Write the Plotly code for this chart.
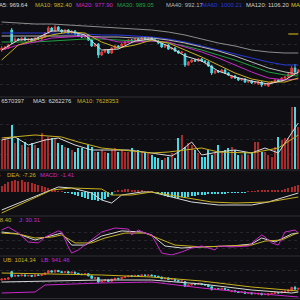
import plotly.graph_objects as go

N = 90
idx = list(range(N))

open_ = [1130,1135,1140,1230,1175,1185,1180,1190,1180,1185,1175,1190,1185,1195,1215,1240,1225,1245,1230,1220,
         1230,1215,1225,1210,1200,1195,1205,1180,1150,1160,1105,1120,1130,1115,1140,1150,1145,1160,1170,1180,
         1175,1185,1180,1190,1185,1190,1180,1175,1165,1145,1155,1135,1140,1125,1115,1110,1055,1070,1080,1075,
         1085,1075,1070,1050,1015,1025,1020,1030,1015,990,1000,990,980,985,970,975,965,960,970,955,
         950,965,970,980,975,990,995,1000,1040,1020]
close = [1140,1145,1155,1170,1185,1180,1190,1180,1185,1175,1190,1185,1195,1215,1240,1225,1245,1230,1220,1230,
         1215,1225,1210,1200,1195,1205,1180,1150,1160,1105,1120,1130,1115,1140,1150,1145,1160,1170,1180,1175,
         1185,1180,1190,1185,1190,1180,1175,1165,1145,1155,1135,1140,1125,1115,1120,1055,1070,1080,1075,1085,
         1075,1070,1050,1015,1025,1020,1030,1015,1005,1000,990,980,985,970,975,965,970,970,955,960,
         965,970,980,975,990,995,1010,1040,1020,1030]
high = [1150,1150,1160,1240,1195,1190,1195,1195,1190,1190,1195,1195,1200,1220,1250,1245,1255,1250,1235,1235,
        1235,1230,1230,1215,1205,1210,1210,1185,1165,1165,1125,1135,1135,1145,1155,1155,1165,1175,1185,1185,
        1190,1190,1195,1195,1195,1195,1185,1180,1170,1160,1160,1145,1145,1130,1125,1115,1075,1085,1085,1090,
        1090,1080,1075,1055,1030,1030,1035,1035,1020,1005,1005,995,990,990,980,980,975,975,975,965,
        970,975,985,985,995,1000,1015,1050,1060,1035]
low = [1120,1130,1135,1160,1170,1175,1175,1175,1175,1170,1170,1180,1180,1190,1210,1220,1220,1225,1215,1215,
       1210,1210,1205,1195,1190,1190,1175,1145,1145,1090,1100,1115,1110,1110,1135,1140,1140,1155,1165,1170,
       1170,1175,1175,1180,1180,1175,1170,1160,1140,1140,1130,1130,1120,1110,1110,1045,1050,1065,1070,1070,
       1070,1065,1045,1005,1010,1015,1015,1010,1000,985,985,975,975,965,965,960,960,955,945,950,
       945,960,965,970,970,985,990,995,1015,1015]

ma_idx = [0,5,10,15,20,25,30,35,40,45,50,55,60,65,70,75,80,85,89]
ma5 = [1130,1180,1185,1225,1225,1205,1130,1135,1175,1185,1150,1100,1075,1025,995,975,960,980,1020]
ma10 = [1080,1155,1180,1205,1220,1215,1170,1140,1155,1180,1165,1130,1095,1055,1015,985,970,970,990]
ma20 = [1130,1155,1170,1190,1195,1200,1190,1170,1170,1175,1170,1145,1120,1090,1055,1020,990,980,985]
ma30 = [1170,1170,1170,1175,1180,1185,1185,1180,1175,1175,1165,1150,1130,1105,1080,1050,1020,1005,1000]
ma40 = [1200,1200,1200,1200,1200,1200,1195,1195,1190,1190,1180,1165,1145,1125,1100,1070,1040,1020,1010]
ma60 = [1215,1215,1215,1215,1210,1210,1205,1205,1200,1195,1185,1170,1150,1130,1110,1090,1070,1055,1055]
ma120 = [1270,1265,1260,1260,1255,1250,1245,1240,1235,1230,1220,1205,1185,1165,1150,1130,1120,1115,1115]
ma250_idx = [86,87,88,89]
ma250 = [1210,1210,1210,1210]

vol_m = [5.8,6.4,5.8,8.8,5.2,6.2,4.8,5.4,4.4,5.2,4.8,4.2,7.2,6.0,6.4,6.2,6.2,5.2,4.8,4.4,
         4.2,3.8,3.4,4.2,4.2,3.8,4.8,4.4,3.4,3.4,3.8,3.4,3.2,3.8,4.2,3.4,3.8,3.4,3.4,4.2,
         3.4,3.8,3.4,3.4,3.2,2.8,2.4,2.2,1.8,2.2,2.4,3.2,2.2,6.2,6.8,4.4,5.2,4.8,3.8,3.2,
         2.4,2.4,3.8,2.8,3.2,4.8,3.4,3.8,4.2,4.4,3.8,2.8,2.8,3.4,2.8,3.4,5.4,5.4,3.4,3.4,
         2.8,2.4,4.4,6.4,5.8,6.2,6.2,12.4,12.4,8.4]
vma5_idx = [0,4,8,13,17,22,27,33,38,45,51,54,57,60,65,70,75,79,83,87,89]
vma5 = [5.8,6.4,4.8,5.8,6.2,4.8,3.8,3.8,3.8,3.2,2.6,3.8,5.4,2.8,3.4,3.8,3.2,4.2,3.2,7.2,9.2]
vma10_idx = [0,10,18,23,30,45,50,60,65,75,83,89]
vma10 = [6.2,6.8,6.4,5.4,4.2,3.2,3.4,4.2,3.4,3.2,4.2,6.8]

macd_hist = [6,8,10,11,12,11,12,10,10,9,8,7,6,5,4,3,2,1,0.5,-0.5,
             -1,-2,-3,-4,-5,-6,-7,-8,-8,-9,-8,-7,-5,-3,1,2,2,3,3,2,
             2,2,1.5,1,1,0.5,-1,-2,-3,-4,-5,-5,-6,-6,-5,-6,-5,-4,-4,-3,
             -3,-3,-2,-2,-2,-2,-1.5,-1.5,-1,-1,-1,-0.5,-0.5,-0.5,0.5,1,1,1.5,2,2,
             1.5,1.5,2,2,2.5,3,4,5,6,7]
dif_idx = [0,13,17,21,27,30,33,36,42,45,57,65,75,80,87,89]
dif = [-18,0,5,4,-1,-8,-11,-3,0,0,-10,-13,-13,-10,-3,-1]
dea_idx = [0,15,21,30,33,39,45,63,70,80,89]
dea = [-21,2,4,3,-3,-3,0,-10,-11,-10,-5]

k_idx = [0,5,10,15,18,21,25,30,36,42,45,49,54,60,69,75,78,82,87,89]
k_val = [80,72.5,50,65,76,31,31,65,84,80,69,27.5,20,24,27.5,35,57.5,42.5,72.5,76]
d_idx = [0,5,10,15,18,22,27,31,37,43,46,52,60,69,75,79,84,88,89]
d_val = [76,72.5,57.5,61,69,39,39,57.5,76,76,61,31,24,27.5,31,46,50,72.5,76]
j_idx = [0,2,5,8,11,13,17,18,20,21,23,27,30,34,38,39,41,43,45,48,51,54,57,60,64,65,69,74,76,78,79,81,83,85,88,89]
j_val = [87.5,98.75,76,42.5,39,61,84,80,24,1,12.5,50,80,95,91,69,87.5,76,69,1,-6,5,20,27.5,12.5,27.5,24,27.5,50,69,61,39,31,80,87.5,76]

ub_idx = [0,15,30,45,60,75,89]
ub = [1214,1205,1190,1166,1118,1046,998]
mid_idx = [0,15,30,45,60,75,87,89]
mid = [1106,1118,1130,1130,1082,1010,974,986]
lb_idx = [0,10,13,30,45,60,75,89]
lb = [974,986,1070,1094,1106,1034,974,926]

BG = "#0f0f13"
RED = "#e23c3c"
VRED = "#a82a2a"
CYAN = "#45dbe6"
C_MA5 = "#d8d8d8"
C_MA10 = "#c8b020"
C_MA20 = "#c828c8"
C_MA30 = "#20a040"
C_MA40 = "#b8b8b8"
C_MA60 = "#2838d8"
C_MA120 = "#8c8c8c"
C_MA250 = "#e0c020"

fig = go.Figure()


def line(x, y, color, ax, w=1.0):
    fig.add_trace(go.Scatter(x=x, y=y, mode="lines", line=dict(color=color, width=w),
                             xaxis=ax[0], yaxis=ax[1], hoverinfo="skip", showlegend=False))


# main
fig.add_trace(go.Candlestick(x=idx, open=open_, high=high, low=low, close=close,
                             increasing=dict(line=dict(color=RED, width=1), fillcolor=RED),
                             decreasing=dict(line=dict(color=CYAN, width=1), fillcolor=CYAN),
                             whiskerwidth=0, showlegend=False, xaxis="x", yaxis="y"))
line(ma_idx, ma120, C_MA120, ("x", "y"))
line(ma_idx, ma60, C_MA60, ("x", "y"))
line(ma_idx, ma40, C_MA40, ("x", "y"))
line(ma_idx, ma30, C_MA30, ("x", "y"))
line(ma_idx, ma20, C_MA20, ("x", "y"))
line(ma_idx, ma10, C_MA10, ("x", "y"))
line(ma_idx, ma5, C_MA5, ("x", "y"))
line(ma250_idx, ma250, C_MA250, ("x", "y"))

# volume
vcol = [VRED if c >= o else CYAN for o, c in zip(open_, close)]
fig.add_trace(go.Bar(x=idx, y=[v * 1e6 for v in vol_m], marker=dict(color=vcol, line=dict(width=0)),
                     width=0.65, xaxis="x2", yaxis="y2", showlegend=False))
line(vma5_idx, [v * 1e6 for v in vma5], C_MA5, ("x2", "y2"))
line(vma10_idx, [v * 1e6 for v in vma10], C_MA10, ("x2", "y2"))

# macd
hcol = [VRED if h >= 0 else CYAN for h in macd_hist]
fig.add_trace(go.Bar(x=idx, y=macd_hist, marker=dict(color=hcol, line=dict(width=0)), width=0.3,
                     xaxis="x3", yaxis="y3", showlegend=False))
line(dif_idx, dif, C_MA5, ("x3", "y3"))
line(dea_idx, dea, C_MA10, ("x3", "y3"))

# kdj
line(k_idx, k_val, C_MA5, ("x4", "y4"))
line(d_idx, d_val, C_MA10, ("x4", "y4"))
line(j_idx, j_val, C_MA20, ("x4", "y4"))

# boll
fig.add_trace(go.Candlestick(x=idx, open=open_, high=high, low=low, close=close,
                             increasing=dict(line=dict(color=RED, width=1), fillcolor=RED),
                             decreasing=dict(line=dict(color=CYAN, width=1), fillcolor=CYAN),
                             whiskerwidth=0, showlegend=False, xaxis="x5", yaxis="y5"))
line(ub_idx, ub, C_MA10, ("x5", "y5"))
line(mid_idx, mid, C_MA5, ("x5", "y5"))
line(lb_idx, lb, C_MA20, ("x5", "y5"))


def pdom(top, bot):
    return [1 - bot / 300, 1 - top / 300]


xa = dict(range=[-0.5, N - 0.5], visible=False, showgrid=False, zeroline=False, fixedrange=True)
ya = dict(visible=True, showticklabels=False, ticks="", zeroline=False, showline=False,
          showgrid=True, gridcolor="#26262c", griddash="dot", gridwidth=1)

fig.update_layout(
    width=300, height=300, margin=dict(l=0, r=0, t=0, b=0),
    paper_bgcolor=BG, plot_bgcolor=BG, showlegend=False, bargap=0,
    xaxis=dict(xa, rangeslider=dict(visible=False)),
    xaxis2=dict(xa, anchor="y2", matches="x"),
    xaxis3=dict(xa, anchor="y3", matches="x"),
    xaxis4=dict(xa, anchor="y4", matches="x"),
    xaxis5=dict(xa, anchor="y5", matches="x", rangeslider=dict(visible=False)),
    yaxis=dict(ya, domain=pdom(10, 95), range=[905, 1330], tickvals=[960, 1060, 1160, 1260]),
    yaxis2=dict(ya, domain=pdom(105, 169), range=[0, 12.8e6], tickvals=[3e6, 6e6, 9e6], anchor="x2"),
    yaxis3=dict(ya, domain=pdom(176, 214), range=[-22, 16], tickvals=[], anchor="x3"),
    yaxis4=dict(ya, domain=pdom(224, 256), range=[-10, 110], tickvals=[80, 50, 20], anchor="x4"),
    yaxis5=dict(ya, domain=pdom(262, 298), range=[914, 1346], tickvals=[1100, 1250], anchor="x5"),
    font=dict(family="Liberation Sans", size=6),
)

for yp in [97, 170, 216, 256, 298.5]:
    fig.add_shape(type="line", xref="paper", yref="paper", x0=0, x1=1, y0=1 - yp / 300, y1=1 - yp / 300,
                  line=dict(color="#2e2e34", width=1))

FS = 5.9


def txt(x, y, s, color, anchor="left"):
    fig.add_annotation(x=x / 300, y=1 - y / 300, xref="paper", yref="paper", text=s, showarrow=False,
                       xanchor=anchor, yanchor="middle", font=dict(color=color, size=FS, family="Liberation Sans"))


txt(30, 5, "MA5: 969.64", C_MA5, "right")
txt(33, 5, "MA10: 982.40", C_MA10)
txt(74, 5, "MA20: 977.90", C_MA20)
txt(115, 5, "MA30: 989.05", C_MA30)
txt(164, 5, "MA40: 992.17", C_MA40)
txt(200, 5, "MA60: 1000.21", C_MA60)
txt(244, 5, "MA120: 1106.20", "#d0d0d0")
txt(289, 5, "MA250", C_MA250)

txt(26, 101, "VOLUME: 6570397", C_MA5, "right")
txt(31, 101, "MA5: 6262276", C_MA5)
txt(75, 101, "MA10: 7628353", C_MA10)

txt(2.5, 175, "DIF: -6.55", C_MA5, "right")
txt(5, 175, "DEA: -7.26", C_MA10)
txt(38, 175, "MACD: -1.41", C_MA20)

txt(14, 220, "D: 38.40", C_MA10, "right")
txt(17, 220, "J: 30.31", C_MA20)

txt(1, 260, "UB: 1014.34", C_MA10)
txt(39, 260, "LB: 941.46", C_MA20)

fig.write_html("out.html")
